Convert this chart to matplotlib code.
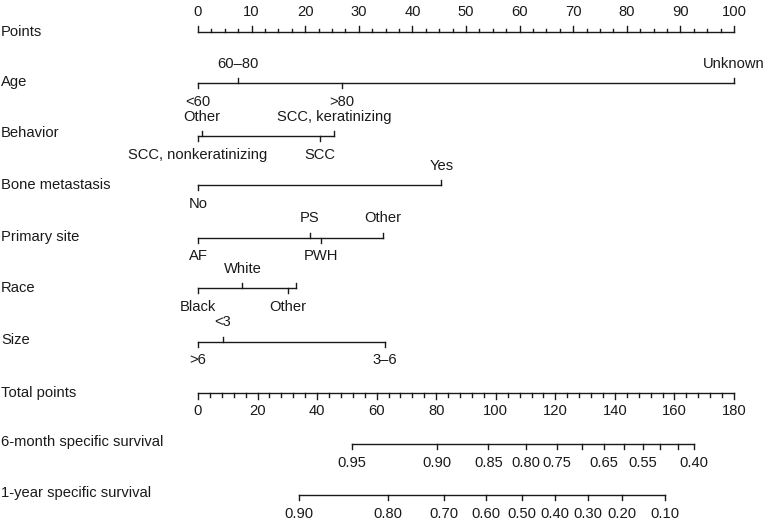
import matplotlib
matplotlib.use("Agg")
import matplotlib.pyplot as plt
import numpy as np

plt.rcParams['font.family'] = ['Liberation Sans', 'DejaVu Sans']

# ---------------- data ----------------
points_major = [0, 10, 20, 30, 40, 50, 60, 70, 80, 90, 100]
points_minor_step = 2.5
total_major = [0, 20, 40, 60, 80, 100, 120, 140, 160, 180]
total_minor_step = 4
total_max = 180

age_labels = ["<60", "60–80", ">80", "Unknown"]
age_points = [0, 7.5, 26.8, 100]

behavior_labels = ["SCC, nonkeratinizing", "Other", "SCC", "SCC, keratinizing"]
behavior_points = [0, 0.8, 22.8, 25.4]

bone_labels = ["No", "Yes"]
bone_points = [0, 45.4]

site_labels = ["AF", "PS", "PWH", "Other"]
site_points = [0, 20.9, 22.9, 34.5]

race_labels = ["Black", "White", "Other", ""]
race_points = [0, 8.3, 16.7, 18.3]

size_labels = [">6", "<3", "3–6"]
size_points = [0, 4.6, 34.9]

surv6_labels = ["0.95", "0.90", "0.85", "0.80", "0.75", "", "0.65", "", "0.55", "", "", "0.40"]
surv6_total = [51.7, 80.3, 97.5, 110.2, 120.4, 129.0, 136.3, 143.0, 149.4, 155.3, 161.2, 166.4]

surv1_labels = ["0.90", "0.80", "0.70", "0.60", "0.50", "0.40", "0.30", "0.20", "0.10"]
surv1_total = [34.0, 63.7, 82.5, 96.8, 108.9, 120.0, 130.9, 142.5, 156.7]

# ---------------- layout ----------------
W, H = 765, 525
fig = plt.figure(figsize=(W / 100, H / 100), dpi=100)
ax = fig.add_axes([0, 0, 1, 1])
px_per_pt = 5.36
x0 = 198
ax.set_xlim(-x0 / px_per_pt, (W - x0) / px_per_pt)
ax.set_ylim(H, 0)
ax.axis("off")

FS = 10.6
LC = "#1a1a1a"
LW = 1.0
label_x = -x0 / px_per_pt + 1 / px_per_pt


def row_label(y, text):
    ax.text(label_x, y, text, ha="left", va="center", fontsize=FS, color=LC)


def tp2pt(v):
    return np.asarray(v, dtype=float) * 100.0 / total_max


# Points axis
y = 32
row_label(y, "Points")
ax.plot([points_major[0], points_major[-1]], [y, y], color=LC, lw=LW)
for v in np.arange(points_major[0], points_major[-1] + 1e-9, points_minor_step):
    ln = 6 if np.isclose(v % 10, 0) else 3
    ax.plot([v, v], [y, y - ln], color=LC, lw=LW)
for v in points_major:
    ax.text(v, y - 20, str(v), ha="center", va="center", fontsize=FS, color=LC)


def variable_row(y, name, labels, pts, sides, ly):
    row_label(ly, name)
    ax.plot([min(pts), max(pts)], [y, y], color=LC, lw=LW)
    for lab, p, s in zip(labels, pts, sides):
        ax.plot([p, p], [y, y - 5 * s], color=LC, lw=LW)
        if lab:
            ax.text(p, y - 19 * s, lab, ha="center", va="center", fontsize=FS, color=LC)


variable_row(83, "Age", age_labels, age_points, [-1, 1, -1, 1], 82)
variable_row(136, "Behavior", behavior_labels, behavior_points, [-1, 1, -1, 1], 133)
variable_row(185, "Bone metastasis", bone_labels, bone_points, [-1, 1], 185)
variable_row(237.5, "Primary site", site_labels, site_points, [-1, 1, -1, 1], 237)
variable_row(288, "Race", race_labels, race_points, [-1, 1, -1, 1], 288)
variable_row(341.5, "Size", size_labels, size_points, [-1, 1, -1], 340)

# Total points axis
y = 393
row_label(y, "Total points")
ax.plot(tp2pt([total_major[0], total_major[-1]]), [y, y], color=LC, lw=LW)
for v in np.arange(total_major[0], total_major[-1] + 1e-9, total_minor_step):
    ln = 6 if np.isclose(v % 20, 0) else 4
    p = tp2pt(v)
    ax.plot([p, p], [y, y + ln], color=LC, lw=LW)
for v in total_major:
    ax.text(tp2pt(v), y + 18, str(v), ha="center", va="center", fontsize=FS, color=LC)


def surv_row(y, name, labels, tps, ly):
    row_label(ly, name)
    pp = tp2pt(tps)
    ax.plot([pp.min(), pp.max()], [y, y], color=LC, lw=LW)
    for lab, p in zip(labels, pp):
        ax.plot([p, p], [y, y + 5], color=LC, lw=LW)
        if lab:
            ax.text(p, y + 19, lab, ha="center", va="center", fontsize=FS, color=LC)


surv_row(444, "6-month specific survival", surv6_labels, surv6_total, 442)
surv_row(495, "1-year specific survival", surv1_labels, surv1_total, 493)

fig.savefig("out.png", dpi=100, facecolor="white")
